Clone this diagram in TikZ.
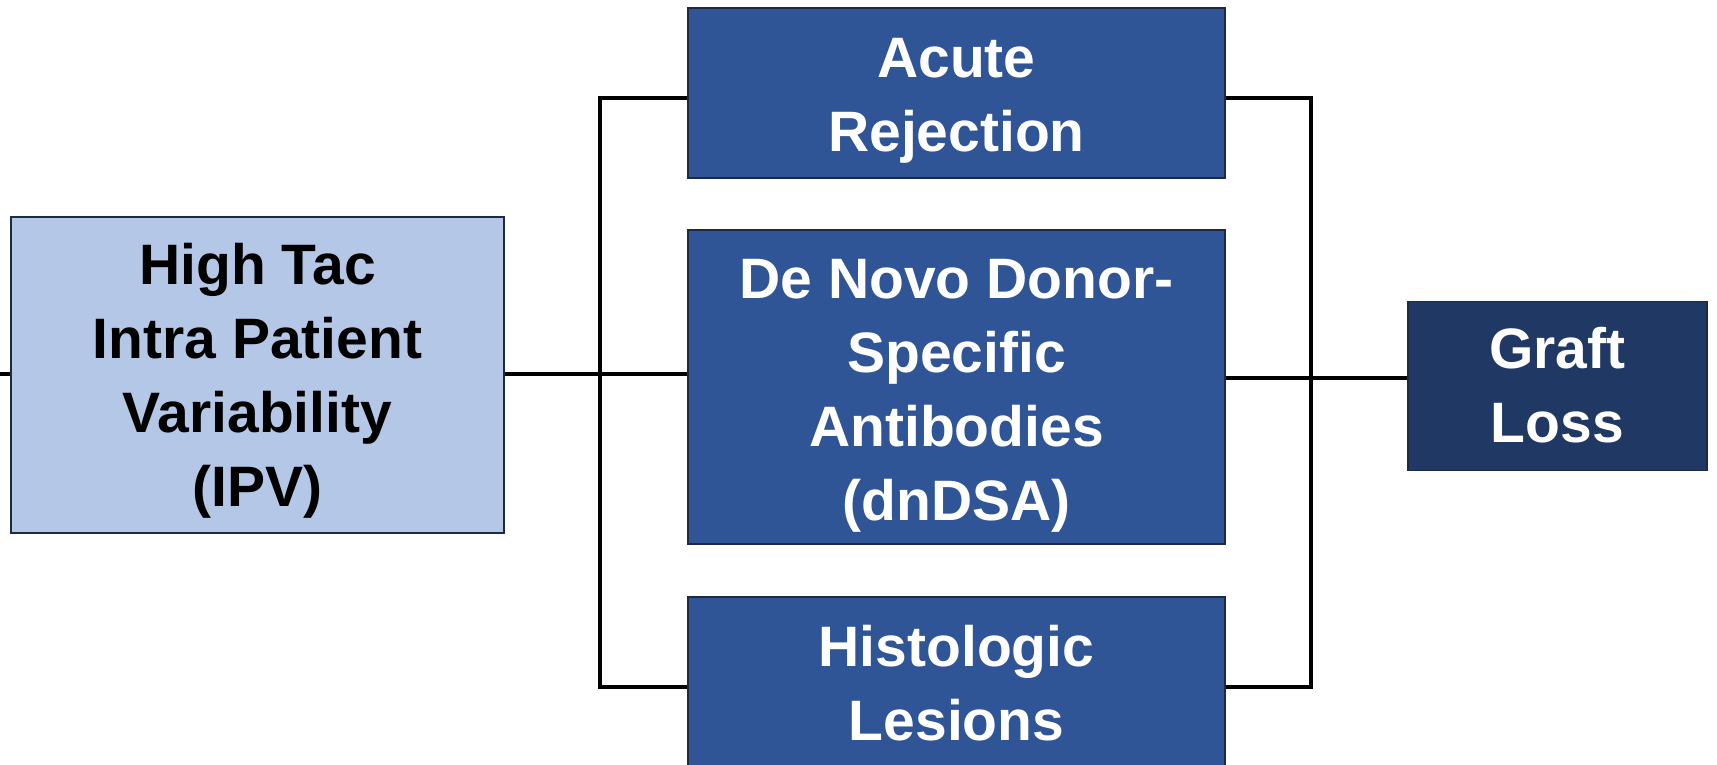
\documentclass[tikz,border=0pt]{standalone}
\usepackage{fontspec}
\setmainfont{Liberation Sans}
\definecolor{lightbox}{HTML}{B4C7E7}
\definecolor{midbox}{HTML}{2F5597}
\definecolor{darkbox}{HTML}{203864}
\definecolor{edge}{HTML}{1E2A40}
\begin{document}
\begin{tikzpicture}[x=1pt,y=1pt,
  txt/.style={align=center,inner sep=0pt,font=\fontsize{57}{74}\selectfont\bfseries},
  box/.style={draw=edge,line width=1.3pt,inner sep=0pt},
  lbox/.style={box,fill=lightbox},
  mbox/.style={box,fill=midbox},
  dbox/.style={box,fill=darkbox},
  conn/.style={line width=3.5pt,draw=black}]
\useasboundingbox (0,0) rectangle (1717,765);
\fill[white] (0,0) rectangle (1717,765);
\node[lbox,minimum width=493,minimum height=316,
  label={[txt,text=black,yshift=-6]center:High Tac\\Intra Patient\\Variability\\(IPV)}] (ipv) at (257.5,390) {};
\node[mbox,minimum width=537,minimum height=170,
  label={[txt,text=white,yshift=-8]center:Acute\\Rejection}] (ar) at (956.5,672) {};
\node[mbox,minimum width=537,minimum height=314,
  label={[txt,text=white,yshift=-9]center:De Novo Donor-\\Specific\\Antibodies\\(dnDSA)}] (dsa) at (956.5,378) {};
\node[mbox,minimum width=537,minimum height=176,
  label={[txt,text=white,yshift=2]center:Histologic\\Lesions}] (hl) at (956.5,80) {};
\node[dbox,minimum width=299,minimum height=169,
  label={[txt,text=white,yshift=1]center:Graft\\Loss}] (gl) at (1557.5,379) {};
\coordinate (lt) at (600,667);
\coordinate (lb) at (600,78);
\coordinate (rt) at (1311,667);
\coordinate (rb) at (1311,78);
\coordinate (stub) at (0,391);
% left bracket
\draw[conn] (ar.west |- lt) -- (lt) -- (lb) -- (hl.west |- lb);
% right bracket
\draw[conn] (ar.east |- rt) -- (rt) -- (rb) -- (hl.east |- rb);
% input line
\draw[conn] (ipv.east |- 0,391) -- (dsa.west |- 0,391);
\draw[conn] (stub) -- (ipv.west |- stub);
% output line
\draw[conn] (dsa.east |- 0,387) -- (gl.west |- 0,387);
\end{tikzpicture}
\end{document}
